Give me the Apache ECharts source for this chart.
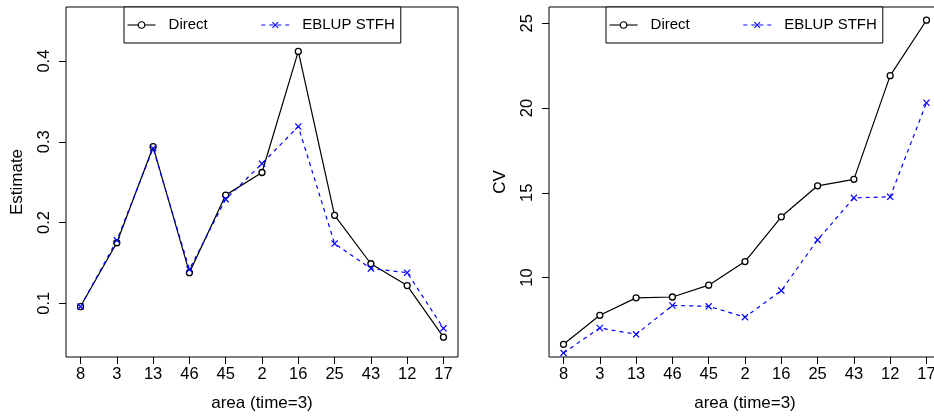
<!DOCTYPE html>
<html>
<head>
<meta charset="utf-8">
<script src="https://cdn.jsdelivr.net/npm/echarts@6/dist/echarts.min.js"></script>
<style>
  html, body { margin: 0; padding: 0; background: #fff; }
  #chart { width: 934px; height: 417px; }
</style>
</head>
<body>
<div id="chart"></div>
<script>
// areas in plotted order (time = 3)
var areas = ['8', '3', '13', '46', '45', '2', '16', '25', '43', '12', '17'];

var estDirect = [0.096, 0.175, 0.294, 0.138, 0.234, 0.262, 0.412, 0.209, 0.149, 0.122, 0.058];
var estEblup  = [0.096, 0.178, 0.292, 0.142, 0.229, 0.273, 0.319, 0.174, 0.143, 0.138, 0.069];

var cvDirect = [6.06, 7.77, 8.80, 8.85, 9.55, 10.94, 13.58, 15.41, 15.79, 21.91, 25.18];
var cvEblup  = [5.55, 7.02, 6.65, 8.35, 8.30, 7.66, 9.23, 12.22, 14.70, 14.76, 20.31];

var estTicks = [0.1, 0.2, 0.3, 0.4];
var cvTicks = [10, 15, 20, 25];

var FONT = '"Liberation Sans", Arial, Helvetica, sans-serif';
var xPos = areas.map(function (a, i) { return i + 1; });

function pairs(vals) {
  return vals.map(function (v, i) { return [i + 1, v]; });
}

var crossPath = 'path://M0,1.2L1.2,0L5,3.8L8.8,0L10,1.2L6.2,5L10,8.8L8.8,10L5,6.2L1.2,10L0,8.8L3.8,5Z';

function xAxisFor(idx) {
  return {
    type: 'value',
    gridIndex: idx,
    min: 0.6,
    max: 11.4,
    name: 'area (time=3)',
    nameLocation: 'middle',
    nameGap: 38,
    nameTextStyle: { color: '#000', fontSize: 17, fontFamily: FONT },
    axisLine: { show: false },
    splitLine: { show: false },
    axisTick: { show: true, length: 7, customValues: xPos, lineStyle: { color: '#000', width: 1 } },
    axisLabel: {
      customValues: xPos,
      color: '#000', fontSize: 16.5, fontFamily: FONT, margin: 9,
      formatter: function (v) { return areas[Math.round(v) - 1]; }
    }
  };
}

function yAxisFor(idx, name, min, max, ticks, fmt) {
  return {
    type: 'value',
    gridIndex: idx,
    min: min,
    max: max,
    name: name,
    nameLocation: 'middle',
    nameGap: 40,
    nameTextStyle: { color: '#000', fontSize: 17, fontFamily: FONT },
    axisLine: { show: false },
    splitLine: { show: false },
    axisTick: { show: true, length: 7, customValues: ticks, lineStyle: { color: '#000', width: 1 } },
    axisLabel: {
      customValues: ticks,
      rotate: 90,
      color: '#000', fontSize: 16.5, fontFamily: FONT, margin: 13,
      formatter: fmt
    }
  };
}

function directSeries(idx, vals) {
  return {
    name: 'Direct',
    type: 'line',
    xAxisIndex: idx,
    yAxisIndex: idx,
    data: pairs(vals),
    symbol: 'circle',
    symbolSize: 6,
    itemStyle: { color: '#fff', borderColor: '#000', borderWidth: 1.3 },
    lineStyle: { color: '#000', width: 1.2 },
    emphasis: { disabled: true },
    animation: false
  };
}

function eblupSeries(idx, vals) {
  return {
    name: 'EBLUP STFH',
    type: 'line',
    xAxisIndex: idx,
    yAxisIndex: idx,
    data: pairs(vals),
    symbol: crossPath,
    symbolSize: 7,
    itemStyle: { color: '#0000ff' },
    lineStyle: { color: '#0000ff', width: 1.2, type: [4, 4] },
    emphasis: { disabled: true },
    animation: false
  };
}

function legendAt(left) {
  return {
    left: left,
    top: 7,
    orient: 'horizontal',
    data: ['Direct', 'EBLUP STFH'],
    itemWidth: 28,
    itemHeight: 8,
    itemGap: 53,
    padding: [10.5, 6, 10.5, 3],
    borderColor: '#000',
    borderWidth: 1,
    backgroundColor: '#fff',
    selectedMode: false,
    lineStyle: { width: 1.1 },
    itemStyle: { borderWidth: 1.1 },
    textStyle: { color: '#000', fontSize: 15, fontFamily: FONT, padding: [0, 0, 0, 8] }
  };
}

var chart = echarts.init(document.getElementById('chart'), null, { renderer: 'canvas' });

var option = {
  animation: false,
  backgroundColor: '#fff',
  grid: [
    { left: 66, top: 7, width: 392, height: 350, show: true, borderColor: '#000', borderWidth: 1, containLabel: false, outerBoundsMode: 'none' },
    { left: 549, top: 7, width: 392, height: 350, show: true, borderColor: '#000', borderWidth: 1, containLabel: false, outerBoundsMode: 'none' }
  ],
  legend: [legendAt(124), legendAt(606)],
  xAxis: [xAxisFor(0), xAxisFor(1)],
  yAxis: [
    yAxisFor(0, 'Estimate', 0.0335, 0.467, estTicks, function (v) { return v.toFixed(1); }),
    yAxisFor(1, 'CV', 5.31, 25.96, cvTicks, function (v) { return String(Math.round(v)); })
  ],
  series: [
    directSeries(0, estDirect),
    eblupSeries(0, estEblup),
    directSeries(1, cvDirect),
    eblupSeries(1, cvEblup)
  ]
};

chart.setOption(option);
</script>
</body>
</html>
